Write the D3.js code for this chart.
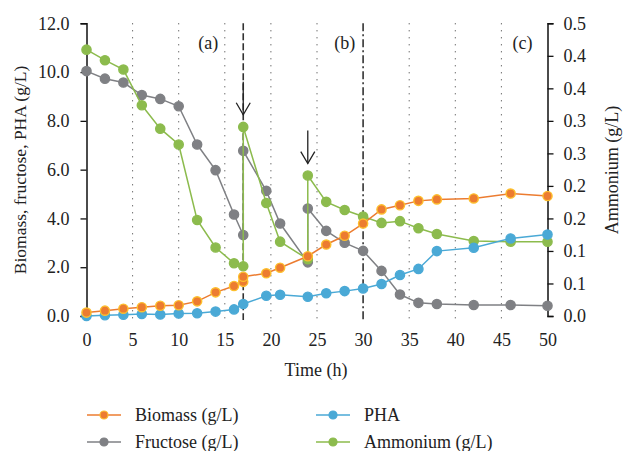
<!DOCTYPE html>
<html><head><meta charset="utf-8">
<script src="https://cdn.jsdelivr.net/npm/d3@7"></script>
<style>body{margin:0;background:#fff}svg{display:block}text{font-family:"Liberation Serif","DejaVu Serif",serif;fill:#222}</style>
</head><body><svg id="c" width="628" height="451"></svg>
<script>
const biomassT = [0,2,4,6,8,10,12,14,16,17,17,19.5,21,24,26,28,30,32,34,36,38,42,46,50];
const biomassV = [0.14,0.22,0.30,0.36,0.42,0.44,0.60,0.97,1.23,1.40,1.61,1.75,1.98,2.45,2.93,3.29,3.79,4.37,4.54,4.72,4.78,4.82,5.02,4.92];
const fructoseT = [0,2,4,6,8,10,12,14,16,17,17,19.5,21,24,24,26,28,30,32,34,36,38,42,46,50];
const fructoseV = [10.04,9.73,9.57,9.06,8.90,8.60,7.03,5.98,4.16,3.32,6.77,5.13,3.79,2.20,4.41,3.49,3.00,2.67,1.85,0.88,0.54,0.49,0.45,0.45,0.42];
const phaT = [0,2,4,6,8,10,12,14,16,17,19.5,21,24,26,28,30,32,34,36,38,42,46,50];
const phaV = [0.00,0.03,0.05,0.08,0.06,0.10,0.11,0.18,0.27,0.49,0.83,0.87,0.79,0.93,1.02,1.13,1.31,1.68,1.93,2.66,2.80,3.18,3.34];
const ammoniumT = [0,2,4,6,8,10,12,14,16,17,17,19.5,21,24,24,26,28,30,32,34,36,38,42,46,50];
const ammoniumV = [0.455,0.437,0.421,0.360,0.320,0.293,0.164,0.117,0.090,0.085,0.323,0.193,0.127,0.097,0.240,0.195,0.181,0.170,0.159,0.162,0.150,0.140,0.128,0.127,0.127];
const xTicks = [0,5,10,15,20,25,30,35,40,45,50];
const yLeftTicks = [0,2,4,6,8,10,12];
const yRightTicks = d3.range(10).map(i => i*0.5/9);
const dottedT = [5,10,15,20,25,35,40,45];
const dashedT = [17,30];
const phaseLabels = ["(a)","(b)","(c)"];
const phaseLabelT = [13.2,28,47.3];
const arrowT = [17,24];
const arrowTipV = [8.25,6.25];

const svg = d3.select("#c");
const x = d3.scaleLinear().domain([0,50]).range([86.5,547.5]);
const yL = d3.scaleLinear().domain([0,12]).range([316,23.3]);
const yR = d3.scaleLinear().domain([0,0.5]).range([316,23.3]);

// grid lines
svg.append("g").selectAll("line").data(dottedT).join("line")
  .attr("x1",d=>x(d)).attr("x2",d=>x(d)).attr("y1",yL(12)).attr("y2",320)
  .attr("stroke","#333").attr("stroke-width",1).attr("stroke-dasharray","1,6");
svg.append("g").selectAll("line").data(dashedT).join("line")
  .attr("x1",d=>x(d)).attr("x2",d=>x(d)).attr("y1",yL(12)).attr("y2",320)
  .attr("stroke","#333").attr("stroke-width",1.6).attr("stroke-dasharray",(d,i)=> i===0 ? "7,3" : "8,3,2,3");

// axes
const axL = svg.append("g").attr("transform","translate(86.5,0)")
  .call(d3.axisLeft(yL).tickValues(yLeftTicks).tickFormat(d3.format(".1f")).tickSize(6).tickPadding(11));
const axR = svg.append("g").attr("transform","translate(547.5,0)")
  .call(d3.axisRight(yR).tickValues(yRightTicks).tickFormat(d3.format(".1f")).tickSize(6).tickPadding(10));
const axB = svg.append("g").attr("transform","translate(0,316)")
  .call(d3.axisBottom(x).tickValues(xTicks).tickFormat(d3.format("d")).tickSize(0).tickPadding(17));
axB.select(".domain").remove();
[axL,axR,axB].forEach(a=>{
  a.selectAll("text").style("font-size","18px").style("font-family","'Liberation Serif',serif").attr("fill","#222");
  a.selectAll("line").attr("stroke","#111").attr("stroke-width",1.3);
  a.select(".domain").attr("stroke","#111").attr("stroke-width",1.5);
});

// series
const series = [
  {t:fructoseT, v:fructoseV, y:yL, color:"#7f8084", edge:"#7f8084"},
  {t:ammoniumT, v:ammoniumV, y:yR, color:"#8cbb4d", edge:"#8cbb4d"},
  {t:phaT, v:phaV, y:yL, color:"#4aa9d6", edge:"#4aa9d6"},
  {t:biomassT, v:biomassV, y:yL, color:"#ec7c30", edge:"#fdbf2d"}
];
series.forEach(s=>{
  const pts = s.t.map((t,i)=>[t,s.v[i]]);
  svg.append("path").datum(pts)
    .attr("fill","none").attr("stroke",s.color).attr("stroke-width",1.5)
    .attr("d", d3.line().x(d=>x(d[0])).y(d=>s.y(d[1])));
  svg.append("g").selectAll("circle").data(pts).join("circle")
    .attr("cx",d=>x(d[0])).attr("cy",d=>s.y(d[1])).attr("r",4.6)
    .attr("fill",s.color).attr("stroke",s.edge).attr("stroke-width",1.4);
});

// arrows
arrowT.forEach((t,i)=>{
  const g = svg.append("g").attr("stroke","#222").attr("stroke-width",1.3).attr("fill","none");
  const tip = yL(arrowTipV[i]);
  g.append("line").attr("x1",x(t)).attr("x2",x(t)).attr("y1",tip-33).attr("y2",tip);
  g.append("path").attr("d",`M${x(t)-7},${tip-12}L${x(t)},${tip}L${x(t)+7},${tip-12}`);
});

// phase labels
svg.append("g").selectAll("text").data(phaseLabels).join("text")
  .attr("x",(d,i)=>x(phaseLabelT[i])).attr("y",49).attr("text-anchor","middle")
  .style("font-size","18px").text(d=>d);

// axis titles
svg.append("text").attr("transform","translate(26,170) rotate(-90)").attr("text-anchor","middle")
  .style("font-size","17.5px").text("Biomass, fructose, PHA (g/L)");
svg.append("text").attr("transform","translate(618,170) rotate(-90)").attr("text-anchor","middle")
  .style("font-size","18px").text("Ammonium (g/L)");
svg.append("text").attr("x",316).attr("y",376).attr("text-anchor","middle")
  .style("font-size","18px").text("Time (h)");

// legend
const legendNames = ["Biomass (g/L)","PHA","Fructose (g/L)","Ammonium (g/L)"];
const legendSeries = [3,2,0,1];
const lg = svg.append("g");
legendNames.forEach((name,i)=>{
  const s = series[legendSeries[i]];
  const lx = i%2===0 ? 87 : 316;
  const ly = i<2 ? 415 : 442;
  lg.append("line").attr("x1",lx).attr("x2",lx+34).attr("y1",ly).attr("y2",ly).attr("stroke",s.color).attr("stroke-width",1.5);
  lg.append("circle").attr("cx",lx+17).attr("cy",ly).attr("r",4).attr("fill",s.color).attr("stroke",s.edge).attr("stroke-width",1.2);
  lg.append("text").attr("x",lx+48).attr("y",ly+6).style("font-size","18px").text(name);
});
</script></body></html>
